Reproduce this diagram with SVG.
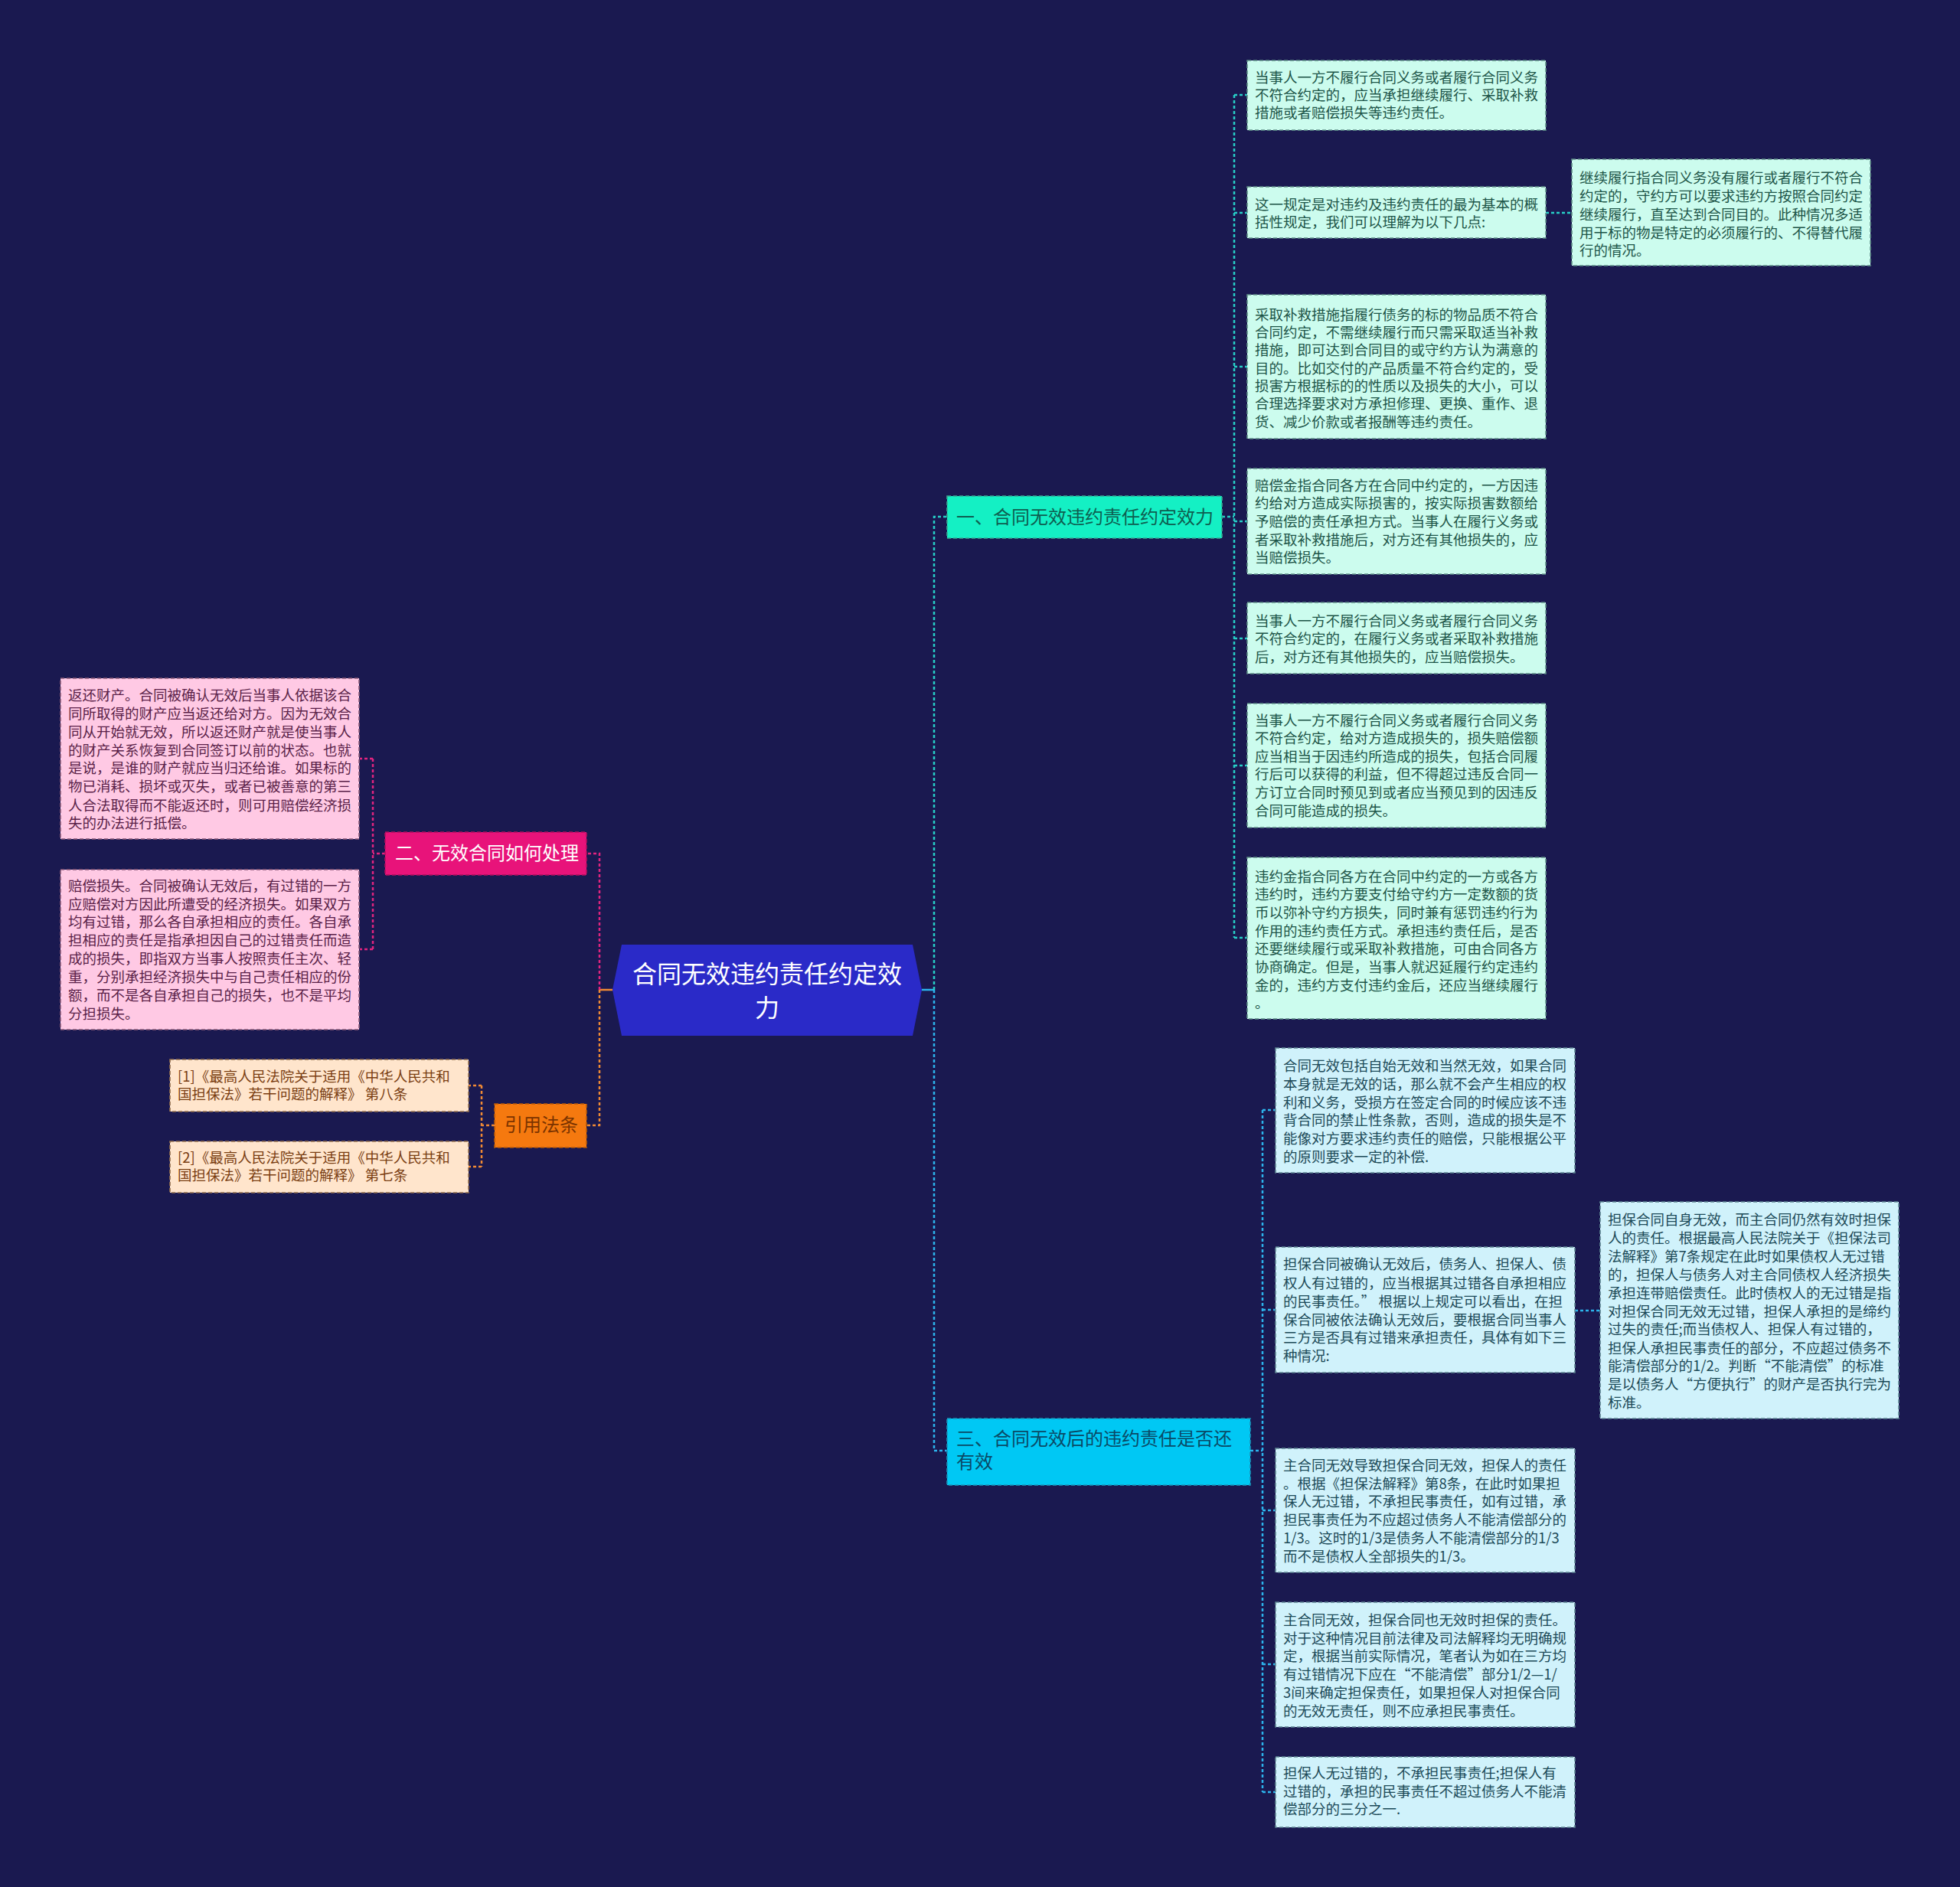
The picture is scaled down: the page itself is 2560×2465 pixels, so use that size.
<svg xmlns="http://www.w3.org/2000/svg" width="2560" height="2465" viewBox="0 0 2560 2465">
<style>
.t{font-family:"Noto Sans CJK SC","Noto Sans",sans-serif;font-size:18.5px;dominant-baseline:central;transform:translate(0px,-2px)}
.bt{font-family:"Noto Sans CJK SC","Noto Sans",sans-serif;font-size:24px;dominant-baseline:central;transform:translate(0px,-3px)}
.ct{font-family:"Noto Sans CJK SC","Noto Sans",sans-serif;font-size:32px;dominant-baseline:central;fill:#ffffff;text-anchor:middle;transform:translate(0px,-3px)}
.box{stroke-width:1.6;stroke-dasharray:5 3}
.mint{fill:#ccfcee;stroke:#5f8f88}
.mintT{fill:#1d5548}
.cyan{fill:#d0f2fb;stroke:#5d8592}
.cyanT{fill:#1c4a58}
.pink{fill:#ffc9e4;stroke:#8a5a78}
.pinkT{fill:#5a1f48}
.peach{fill:#ffe5cc;stroke:#94704f}
.peachT{fill:#7a3e12}
.c{fill:none;stroke-width:2.5;stroke-dasharray:4 3}
.teal{stroke:#27cfc6}
.blue{stroke:#2cb4ec}
.pk{stroke:#e2247f}
.or{stroke:#f08a34}
</style>
<rect x="0" y="0" width="2560" height="2465" fill="#1a1950"/>

<g id="connectors">
  <line x1="1204" y1="1293" x2="1220" y2="1293" stroke="#2cb4ec" stroke-width="2.5"/>
  <path class="c teal" d="M1220 1293 V675 H1237"/>
  <path class="c blue" d="M1220 1293 V1895 H1237"/>
  <path class="c teal" d="M1596 675 H1612"/>
  <path class="c teal" d="M1612 124 V1225"/>
  <path class="c teal" d="M1612 124 H1629 M1612 278 H1629 M1612 479 H1629 M1612 681 H1629 M1612 834 H1629 M1612 1000 H1629 M1612 1225 H1629"/>
  <path class="c teal" d="M2019 278 H2053"/>
  <path class="c blue" d="M1633 1895 H1649"/>
  <path class="c blue" d="M1649 1450 V2341"/>
  <path class="c blue" d="M1649 1450 H1666 M1649 1711 H1666 M1649 1973 H1666 M1649 2174 H1666 M1649 2341 H1666"/>
  <path class="c blue" d="M2057 1712 H2090"/>
  <line x1="800" y1="1293" x2="783" y2="1293" stroke="#f08a34" stroke-width="2.5"/>
  <path class="c pk" d="M783 1293 V1115 H766"/>
  <path class="c or" d="M783 1293 V1470 H766"/>
  <path class="c pk" d="M503 1115 H487 M487 991 V1240 M487 991 H470 M487 1240 H470"/>
  <path class="c or" d="M646 1470 H629 M629 1418 V1524 M629 1418 H612 M629 1524 H612"/>
</g>

<g id="center">
  <polygon points="812,1234 1192,1234 1204,1293 1192,1353 812,1353 800,1293" fill="#2a2ac8"/>
  <text class="ct"><tspan x="1002" y="1273">合同无效违约责任约定效</tspan><tspan x="1002" y="1317">力</tspan></text>
</g>

<g id="branch1">
  <rect class="box" x="1237" y="648" width="359" height="55" fill="#14f0c4" stroke="#3aa892"/>
  <text class="bt" x="1249" y="676" fill="#0e5e50">一、合同无效违约责任约定效力</text>
</g>
<g id="branch2">
  <rect class="box" x="503" y="1087" width="263" height="56" fill="#e8137a" stroke="#b00f5e"/>
  <text class="bt" x="516" y="1115" fill="#ffffff">二、无效合同如何处理</text>
</g>
<g id="branch3">
  <rect class="box" x="1237" y="1853" width="396" height="87" fill="#00c8f4" stroke="#1a92b8"/>
  <text class="bt" fill="#0a4a66"><tspan x="1249" y="1880">三、合同无效后的违约责任是否还</tspan><tspan x="1249" y="1910">有效</tspan></text>
</g>
<g id="cite">
  <rect class="box" x="646" y="1442" width="120" height="57" fill="#f5790f" stroke="#b85a08"/>
  <text class="bt" x="659" y="1470" fill="#7a3300">引用法条</text>
</g>

<g id="m1">
  <rect class="box mint" x="1629" y="79" width="390" height="91"/>
  <text class="t mintT"><tspan x="1639" y="102">当事人一方不履行合同义务或者履行合同义务</tspan><tspan x="1639" y="125">不符合约定的，应当承担继续履行、采取补救</tspan><tspan x="1639" y="148">措施或者赔偿损失等违约责任。</tspan></text>
</g>
<g id="m2">
  <rect class="box mint" x="1629" y="244" width="390" height="67"/>
  <text class="t mintT"><tspan x="1639" y="268">这一规定是对违约及违约责任的最为基本的概</tspan><tspan x="1639" y="291">括性规定，我们可以理解为以下几点:</tspan></text>
</g>
<g id="m2a">
  <rect class="box mint" x="2053" y="208" width="390" height="139"/>
  <text class="t mintT"><tspan x="2063" y="233">继续履行指合同义务没有履行或者履行不符合</tspan><tspan x="2063" y="257">约定的，守约方可以要求违约方按照合同约定</tspan><tspan x="2063" y="281">继续履行，直至达到合同目的。此种情况多适</tspan><tspan x="2063" y="305">用于标的物是特定的必须履行的、不得替代履</tspan><tspan x="2063" y="328">行的情况。</tspan></text>
</g>
<g id="m3">
  <rect class="box mint" x="1629" y="385" width="390" height="188"/>
  <text class="t mintT"><tspan x="1639" y="412">采取补救措施指履行债务的标的物品质不符合</tspan><tspan x="1639" y="435">合同约定，不需继续履行而只需采取适当补救</tspan><tspan x="1639" y="458">措施，即可达到合同目的或守约方认为满意的</tspan><tspan x="1639" y="482">目的。比如交付的产品质量不符合约定的，受</tspan><tspan x="1639" y="505">损害方根据标的的性质以及损失的大小，可以</tspan><tspan x="1639" y="528">合理选择要求对方承担修理、更换、重作、退</tspan><tspan x="1639" y="552">货、减少价款或者报酬等违约责任。</tspan></text>
</g>
<g id="m4">
  <rect class="box mint" x="1629" y="612" width="390" height="138"/>
  <text class="t mintT"><tspan x="1639" y="635">赔偿金指合同各方在合同中约定的，一方因违</tspan><tspan x="1639" y="658">约给对方造成实际损害的，按实际损害数额给</tspan><tspan x="1639" y="682">予赔偿的责任承担方式。当事人在履行义务或</tspan><tspan x="1639" y="706">者采取补救措施后，对方还有其他损失的，应</tspan><tspan x="1639" y="729">当赔偿损失。</tspan></text>
</g>
<g id="m5">
  <rect class="box mint" x="1629" y="787" width="390" height="93"/>
  <text class="t mintT"><tspan x="1639" y="812">当事人一方不履行合同义务或者履行合同义务</tspan><tspan x="1639" y="835">不符合约定的，在履行义务或者采取补救措施</tspan><tspan x="1639" y="859">后，对方还有其他损失的，应当赔偿损失。</tspan></text>
</g>
<g id="m6">
  <rect class="box mint" x="1629" y="919" width="390" height="162"/>
  <text class="t mintT"><tspan x="1639" y="942">当事人一方不履行合同义务或者履行合同义务</tspan><tspan x="1639" y="965">不符合约定，给对方造成损失的，损失赔偿额</tspan><tspan x="1639" y="989">应当相当于因违约所造成的损失，包括合同履</tspan><tspan x="1639" y="1012">行后可以获得的利益，但不得超过违反合同一</tspan><tspan x="1639" y="1036">方订立合同时预见到或者应当预见到的因违反</tspan><tspan x="1639" y="1060">合同可能造成的损失。</tspan></text>
</g>
<g id="m7">
  <rect class="box mint" x="1629" y="1120" width="390" height="211"/>
  <text class="t mintT"><tspan x="1639" y="1146">违约金指合同各方在合同中约定的一方或各方</tspan><tspan x="1639" y="1169">违约时，违约方要支付给守约方一定数额的货</tspan><tspan x="1639" y="1193">币以弥补守约方损失，同时兼有惩罚违约行为</tspan><tspan x="1639" y="1217">作用的违约责任方式。承担违约责任后，是否</tspan><tspan x="1639" y="1240">还要继续履行或采取补救措施，可由合同各方</tspan><tspan x="1639" y="1264">协商确定。但是，当事人就迟延履行约定违约</tspan><tspan x="1639" y="1288">金的，违约方支付违约金后，还应当继续履行</tspan><tspan x="1639" y="1311">。</tspan></text>
</g>

<g id="c1">
  <rect class="box cyan" x="1666" y="1369" width="391" height="163"/>
  <text class="t cyanT"><tspan x="1676" y="1393">合同无效包括自始无效和当然无效，如果合同</tspan><tspan x="1676" y="1417">本身就是无效的话，那么就不会产生相应的权</tspan><tspan x="1676" y="1441">利和义务，受损方在签定合同的时候应该不违</tspan><tspan x="1676" y="1464">背合同的禁止性条款，否则，造成的损失是不</tspan><tspan x="1676" y="1488">能像对方要求违约责任的赔偿，只能根据公平</tspan><tspan x="1676" y="1512">的原则要求一定的补偿.</tspan></text>
</g>
<g id="c2">
  <rect class="box cyan" x="1666" y="1629" width="391" height="164"/>
  <text class="t cyanT"><tspan x="1676" y="1652">担保合同被确认无效后，债务人、担保人、债</tspan><tspan x="1676" y="1677">权人有过错的，应当根据其过错各自承担相应</tspan><tspan x="1676" y="1701">的民事责任。” 根据以上规定可以看出，在担</tspan><tspan x="1676" y="1725">保合同被依法确认无效后，要根据合同当事人</tspan><tspan x="1676" y="1748">三方是否具有过错来承担责任，具体有如下三</tspan><tspan x="1676" y="1772">种情况:</tspan></text>
</g>
<g id="c2a">
  <rect class="box cyan" x="2090" y="1570" width="390" height="283"/>
  <text class="t cyanT"><tspan x="2100" y="1594">担保合同自身无效，而主合同仍然有效时担保</tspan><tspan x="2100" y="1618">人的责任。根据最高人民法院关于《担保法司</tspan><tspan x="2100" y="1642">法解释》第7条规定在此时如果债权人无过错</tspan><tspan x="2100" y="1666">的，担保人与债务人对主合同债权人经济损失</tspan><tspan x="2100" y="1690">承担连带赔偿责任。此时债权人的无过错是指</tspan><tspan x="2100" y="1714">对担保合同无效无过错，担保人承担的是缔约</tspan><tspan x="2100" y="1737">过失的责任;而当债权人、担保人有过错的，</tspan><tspan x="2100" y="1762">担保人承担民事责任的部分，不应超过债务不</tspan><tspan x="2100" y="1785">能清偿部分的1/2。判断“不能清偿”的标准</tspan><tspan x="2100" y="1809">是以债务人“方便执行”的财产是否执行完为</tspan><tspan x="2100" y="1833">标准。</tspan></text>
</g>
<g id="c3">
  <rect class="box cyan" x="1666" y="1892" width="391" height="162"/>
  <text class="t cyanT"><tspan x="1676" y="1915">主合同无效导致担保合同无效，担保人的责任</tspan><tspan x="1676" y="1939">。根据《担保法解释》第8条，在此时如果担</tspan><tspan x="1676" y="1962">保人无过错，不承担民事责任，如有过错，承</tspan><tspan x="1676" y="1986">担民事责任为不应超过债务人不能清偿部分的</tspan><tspan x="1676" y="2010">1/3。这时的1/3是债务人不能清偿部分的1/3</tspan><tspan x="1676" y="2034">而不是债权人全部损失的1/3。</tspan></text>
</g>
<g id="c4">
  <rect class="box cyan" x="1666" y="2093" width="391" height="163"/>
  <text class="t cyanT"><tspan x="1676" y="2117">主合同无效，担保合同也无效时担保的责任。</tspan><tspan x="1676" y="2141">对于这种情况目前法律及司法解释均无明确规</tspan><tspan x="1676" y="2164">定，根据当前实际情况，笔者认为如在三方均</tspan><tspan x="1676" y="2188">有过错情况下应在“不能清偿”部分1/2—1/</tspan><tspan x="1676" y="2212">3间来确定担保责任，如果担保人对担保合同</tspan><tspan x="1676" y="2236">的无效无责任，则不应承担民事责任。</tspan></text>
</g>
<g id="c5">
  <rect class="box cyan" x="1666" y="2295" width="391" height="92"/>
  <text class="t cyanT"><tspan x="1676" y="2317">担保人无过错的，不承担民事责任;担保人有</tspan><tspan x="1676" y="2341">过错的，承担的民事责任不超过债务人不能清</tspan><tspan x="1676" y="2364">偿部分的三分之一.</tspan></text>
</g>

<g id="p1">
  <rect class="box pink" x="79" y="886" width="390" height="210"/>
  <text class="t pinkT"><tspan x="89" y="909">返还财产。合同被确认无效后当事人依据该合</tspan><tspan x="89" y="933">同所取得的财产应当返还给对方。因为无效合</tspan><tspan x="89" y="957">同从开始就无效，所以返还财产就是使当事人</tspan><tspan x="89" y="981">的财产关系恢复到合同签订以前的状态。也就</tspan><tspan x="89" y="1004">是说，是谁的财产就应当归还给谁。如果标的</tspan><tspan x="89" y="1028">物已消耗、损坏或灭失，或者已被善意的第三</tspan><tspan x="89" y="1053">人合法取得而不能返还时，则可用赔偿经济损</tspan><tspan x="89" y="1076">失的办法进行抵偿。</tspan></text>
</g>
<g id="p2">
  <rect class="box pink" x="79" y="1136" width="390" height="209"/>
  <text class="t pinkT"><tspan x="89" y="1158">赔偿损失。合同被确认无效后，有过错的一方</tspan><tspan x="89" y="1182">应赔偿对方因此所遭受的经济损失。如果双方</tspan><tspan x="89" y="1205">均有过错，那么各自承担相应的责任。各自承</tspan><tspan x="89" y="1229">担相应的责任是指承担因自己的过错责任而造</tspan><tspan x="89" y="1253">成的损失，即指双方当事人按照责任主次、轻</tspan><tspan x="89" y="1277">重，分别承担经济损失中与自己责任相应的份</tspan><tspan x="89" y="1301">额，而不是各自承担自己的损失，也不是平均</tspan><tspan x="89" y="1325">分担损失。</tspan></text>
</g>

<g id="q1">
  <rect class="box peach" x="222" y="1384" width="390" height="68"/>
  <text class="t peachT"><tspan x="232" y="1407">[1]《最高人民法院关于适用《中华人民共和</tspan><tspan x="232" y="1430">国担保法》若干问题的解释》 第八条</tspan></text>
</g>
<g id="q2">
  <rect class="box peach" x="222" y="1491" width="390" height="67"/>
  <text class="t peachT"><tspan x="232" y="1513">[2]《最高人民法院关于适用《中华人民共和</tspan><tspan x="232" y="1536">国担保法》若干问题的解释》 第七条</tspan></text>
</g>
</svg>
